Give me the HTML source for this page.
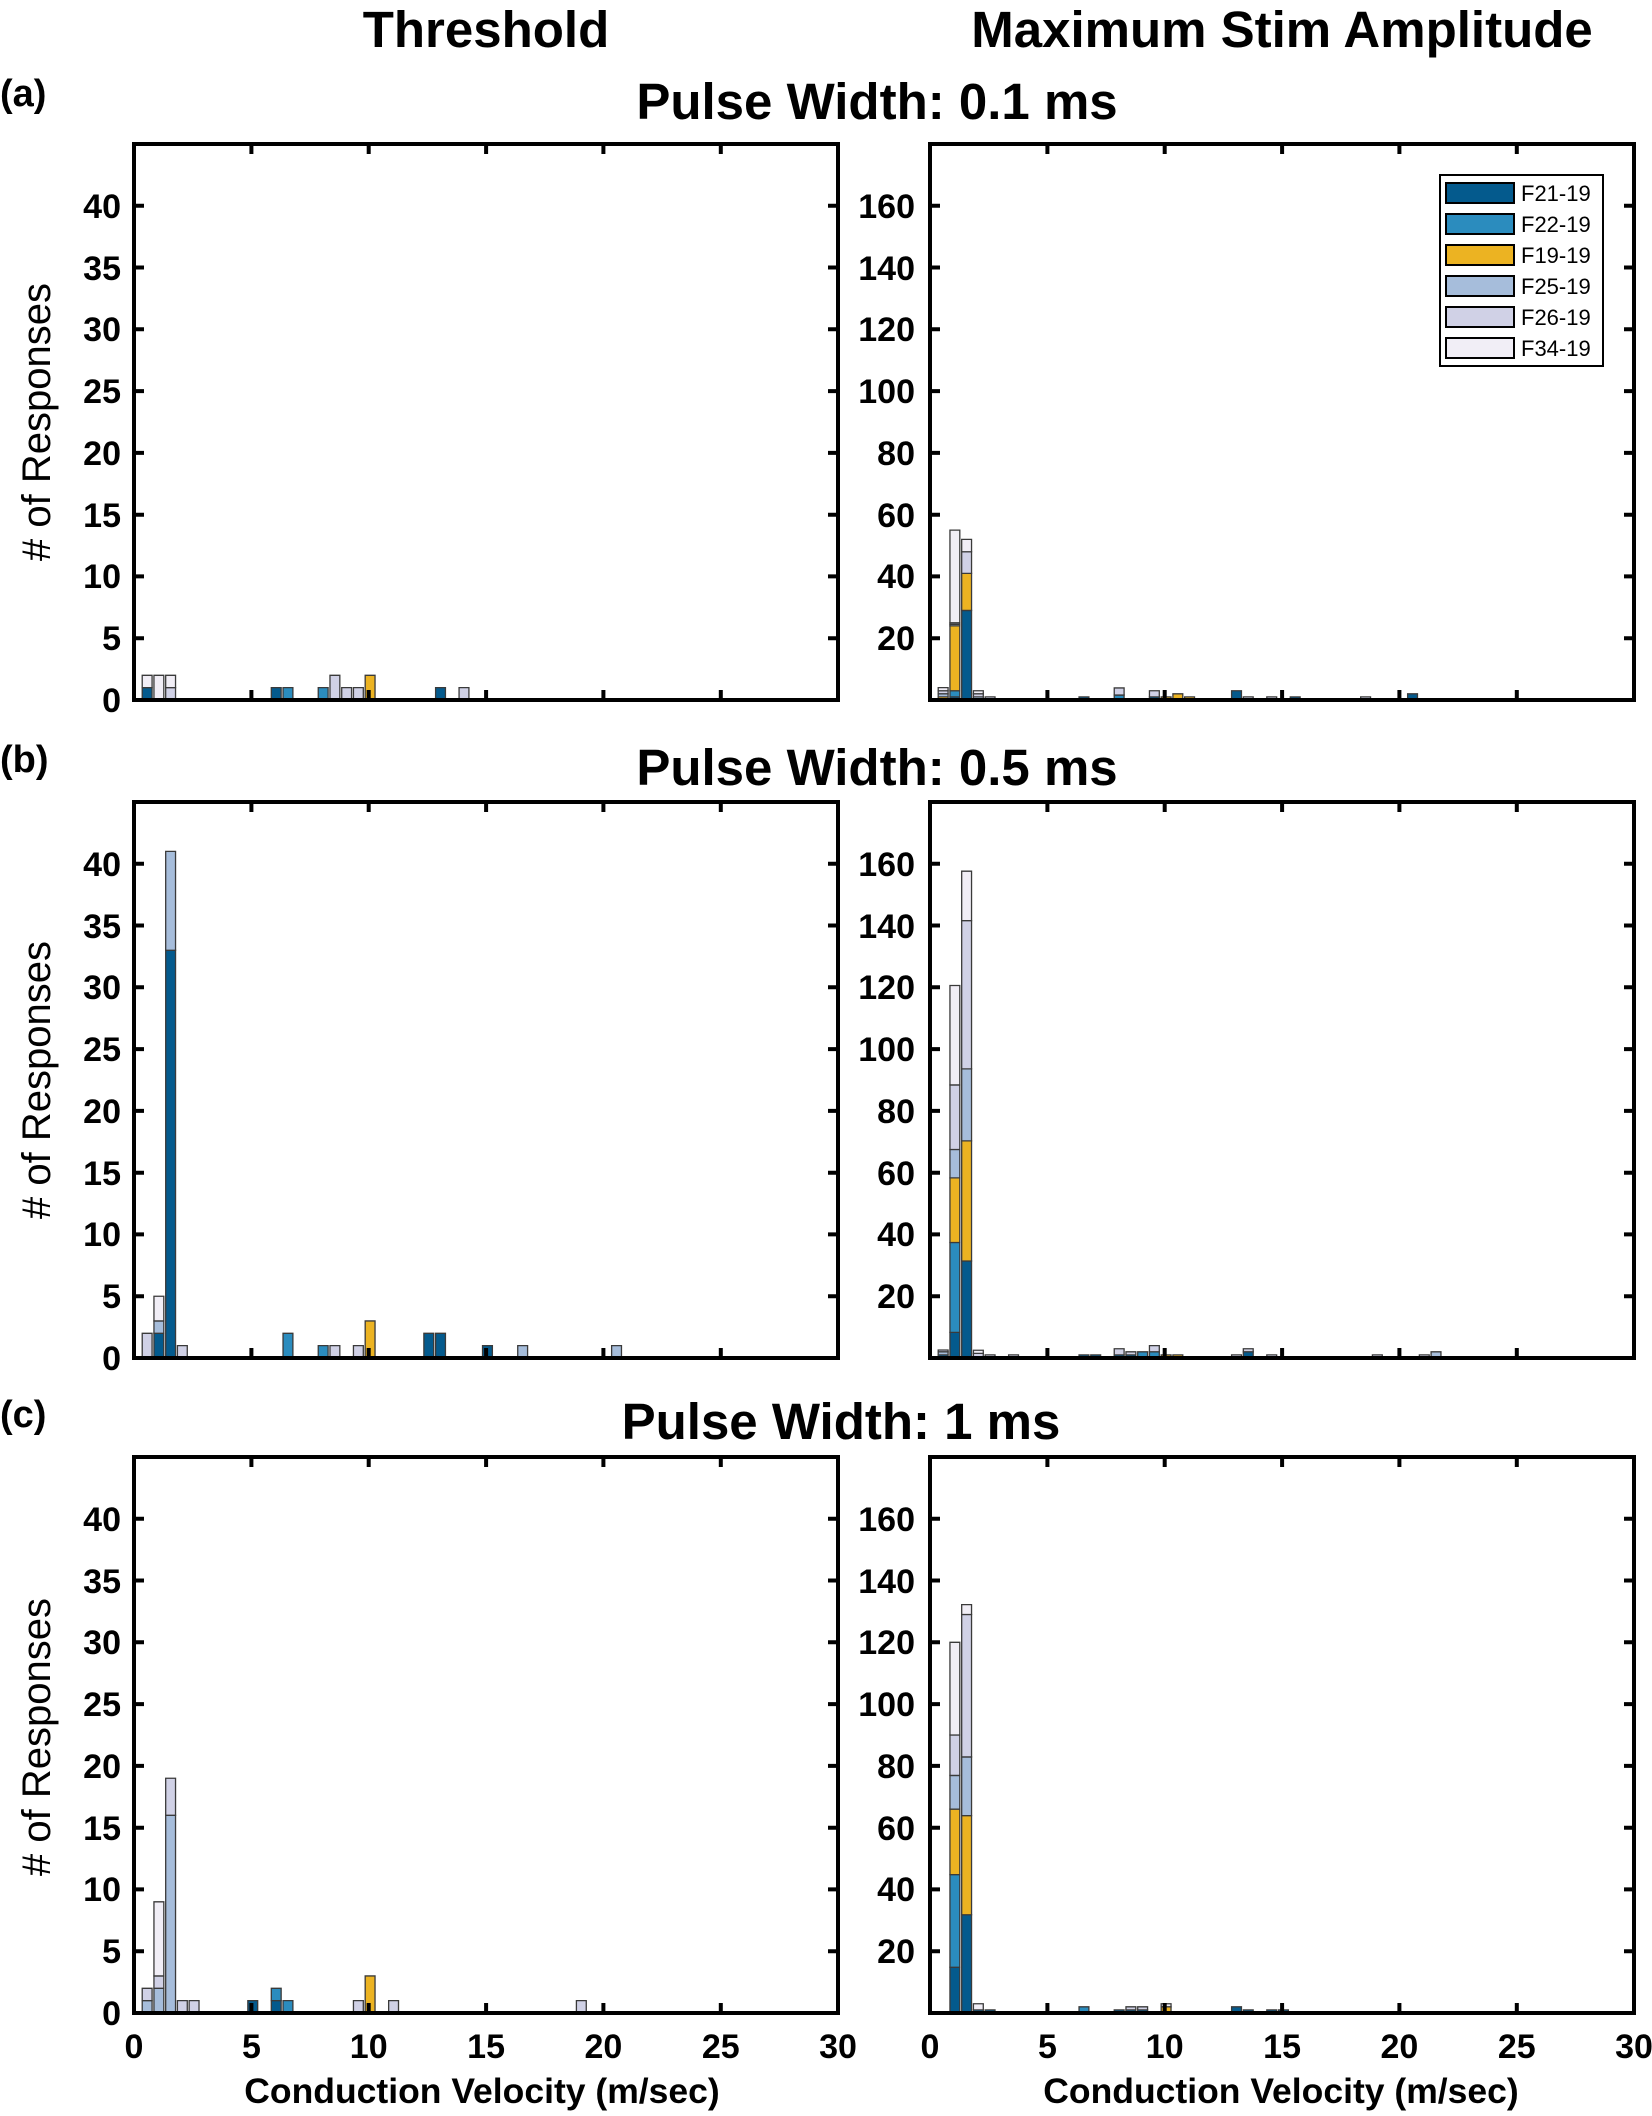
<!DOCTYPE html>
<html><head><meta charset="utf-8"><style>
html,body{margin:0;padding:0;background:#fff;}
svg{display:block;}
text{font-family:"Liberation Sans",Arial,sans-serif;}
.bars rect{stroke:#3a3a3a;stroke-width:1.3;vector-effect:non-scaling-stroke;}
.A{fill:#045a8d}.B{fill:#2b8cbe}.C{fill:#ecb322}.D{fill:#a6bddb}.E{fill:#d0d1e6}.F{fill:#f1eef6}
.tk{stroke:#000;stroke-width:4;}
.fr{fill:none;stroke:#000;stroke-width:4;}
.tl{font-size:34px;font-weight:bold;}
</style></head><body>
<svg width="1652" height="2116" viewBox="0 0 1652 2116" xmlns="http://www.w3.org/2000/svg">
<defs>
<g id="lframe">
<rect class="fr" x="134" y="144" width="704" height="556"/>
<path class="tk" d="M134 638.2h10M134 576.4h10M134 514.7h10M134 452.9h10M134 391.1h10M134 329.3h10M134 267.5h10M134 205.8h10M828 638.2h10M828 576.4h10M828 514.7h10M828 452.9h10M828 391.1h10M828 329.3h10M828 267.5h10M828 205.8h10M251.4 700v-10M368.7 700v-10M486.1 700v-10M603.4 700v-10M720.8 700v-10M251.4 144v10M368.7 144v10M486.1 144v10M603.4 144v10M720.8 144v10"/>
</g>
<g id="rframe">
<rect class="fr" x="930" y="144" width="704" height="556"/>
<path class="tk" d="M930 638.2h10M930 576.4h10M930 514.7h10M930 452.9h10M930 391.1h10M930 329.3h10M930 267.5h10M930 205.8h10M1624 638.2h10M1624 576.4h10M1624 514.7h10M1624 452.9h10M1624 391.1h10M1624 329.3h10M1624 267.5h10M1624 205.8h10M1047.4 700v-10M1164.7 700v-10M1282.1 700v-10M1399.4 700v-10M1516.8 700v-10M1047.4 144v10M1164.7 144v10M1282.1 144v10M1399.4 144v10M1516.8 144v10"/>
</g>
</defs>

<text x="486" y="47" font-size="51" font-weight="bold" text-anchor="middle">Threshold</text>
<text x="1282" y="47" font-size="51" font-weight="bold" text-anchor="middle">Maximum Stim Amplitude</text>

<text x="0" y="106" font-size="38" font-weight="bold">(a)</text>
<text x="877" y="119" font-size="51" font-weight="bold" text-anchor="middle">Pulse Width: 0.1 ms</text>
<text x="0" y="772" font-size="38" font-weight="bold">(b)</text>
<text x="877" y="785" font-size="51" font-weight="bold" text-anchor="middle">Pulse Width: 0.5 ms</text>
<text x="0" y="1427" font-size="38" font-weight="bold">(c)</text>
<text x="841" y="1439" font-size="51" font-weight="bold" text-anchor="middle">Pulse Width: 1 ms</text>

<text transform="translate(50,422) rotate(-90)" font-size="40" text-anchor="middle"># of Responses</text>
<text transform="translate(50,1080) rotate(-90)" font-size="40" text-anchor="middle"># of Responses</text>
<text transform="translate(50,1737) rotate(-90)" font-size="40" text-anchor="middle"># of Responses</text>

<g>
<g class="bars" transform="translate(134,700) scale(23.47,-12.356)">
<rect class="A" x="0.35" y="0" width="0.42" height="1"/><rect class="F" x="0.35" y="1" width="0.42" height="1"/>
<rect class="F" x="0.85" y="0" width="0.42" height="2"/>
<rect class="E" x="1.35" y="0" width="0.42" height="1"/><rect class="F" x="1.35" y="1" width="0.42" height="1"/>
<rect class="A" x="5.85" y="0" width="0.42" height="1"/>
<rect class="B" x="6.35" y="0" width="0.42" height="1"/>
<rect class="B" x="7.85" y="0" width="0.42" height="1"/>
<rect class="E" x="8.35" y="0" width="0.42" height="2"/>
<rect class="E" x="8.85" y="0" width="0.42" height="1"/>
<rect class="E" x="9.35" y="0" width="0.42" height="1"/>
<rect class="C" x="9.85" y="0" width="0.42" height="2"/>
<rect class="A" x="12.85" y="0" width="0.42" height="1"/>
<rect class="E" x="13.85" y="0" width="0.42" height="1"/>
</g>
<use href="#lframe"/>
<g class="tl" text-anchor="end">
<text x="121" y="712">0</text><text x="121" y="650">5</text><text x="121" y="588">10</text><text x="121" y="527">15</text><text x="121" y="465">20</text><text x="121" y="403">25</text><text x="121" y="341">30</text><text x="121" y="280">35</text><text x="121" y="218">40</text>
</g>
<g class="bars" transform="translate(930,700) scale(23.47,-3.089)">
<rect class="C" x="0.35" y="0" width="0.42" height="1"/><rect class="D" x="0.35" y="1" width="0.42" height="1"/><rect class="E" x="0.35" y="2" width="0.42" height="1"/><rect class="F" x="0.35" y="3" width="0.42" height="1"/>
<rect class="A" x="0.85" y="0" width="0.42" height="1"/><rect class="B" x="0.85" y="1" width="0.42" height="2"/><rect class="C" x="0.85" y="3" width="0.42" height="21"/><rect class="D" x="0.85" y="24" width="0.42" height="0.5"/><rect class="E" x="0.85" y="24.5" width="0.42" height="0.5"/><rect class="F" x="0.85" y="25" width="0.42" height="30"/>
<rect class="A" x="1.35" y="0" width="0.42" height="29"/><rect class="C" x="1.35" y="29" width="0.42" height="12"/><rect class="E" x="1.35" y="41" width="0.42" height="7"/><rect class="F" x="1.35" y="48" width="0.42" height="4"/>
<rect class="D" x="1.85" y="0" width="0.42" height="1"/><rect class="E" x="1.85" y="1" width="0.42" height="1"/><rect class="F" x="1.85" y="2" width="0.42" height="1"/>
<rect class="E" x="2.35" y="0" width="0.42" height="1"/>
<rect class="A" x="6.35" y="0" width="0.42" height="1"/>
<rect class="B" x="7.85" y="0" width="0.42" height="1.6"/><rect class="E" x="7.85" y="1.6" width="0.42" height="2.3"/>
<rect class="A" x="9.35" y="0" width="0.42" height="1"/><rect class="E" x="9.35" y="1" width="0.42" height="2"/>
<rect class="C" x="9.85" y="0" width="0.42" height="1"/>
<rect class="C" x="10.35" y="0" width="0.42" height="2"/>
<rect class="C" x="10.85" y="0" width="0.42" height="1"/>
<rect class="A" x="12.85" y="0" width="0.42" height="3"/>
<rect class="E" x="13.35" y="0" width="0.42" height="1"/>
<rect class="E" x="14.35" y="0" width="0.42" height="1"/>
<rect class="A" x="15.35" y="0" width="0.42" height="1"/>
<rect class="E" x="18.35" y="0" width="0.42" height="1"/>
<rect class="A" x="20.35" y="0" width="0.42" height="2"/>
</g>
<use href="#rframe"/>
<g class="tl" text-anchor="end">
<text x="915" y="650">20</text><text x="915" y="588">40</text><text x="915" y="527">60</text><text x="915" y="465">80</text><text x="915" y="403">100</text><text x="915" y="341">120</text><text x="915" y="280">140</text><text x="915" y="218">160</text>
</g>
<rect x="1440" y="175" width="163" height="191" fill="#fff" stroke="#000" stroke-width="2"/>
<g stroke="#000" stroke-width="2">
<rect class="A" x="1446" y="183" width="68" height="20"/>
<rect class="B" x="1446" y="214" width="68" height="20"/>
<rect class="C" x="1446" y="245" width="68" height="20"/>
<rect class="D" x="1446" y="276" width="68" height="20"/>
<rect class="E" x="1446" y="307" width="68" height="20"/>
<rect class="F" x="1446" y="338" width="68" height="20"/>
</g>
<g font-size="22">
<text x="1521" y="201">F21-19</text><text x="1521" y="232">F22-19</text><text x="1521" y="263">F19-19</text><text x="1521" y="294">F25-19</text><text x="1521" y="325">F26-19</text><text x="1521" y="356">F34-19</text>
</g>
</g>

<g transform="translate(0,658)">
<g class="bars" transform="translate(134,700) scale(23.47,-12.356)">
<rect class="E" x="0.35" y="0" width="0.42" height="2"/>
<rect class="A" x="0.85" y="0" width="0.42" height="2"/><rect class="D" x="0.85" y="2" width="0.42" height="1"/><rect class="F" x="0.85" y="3" width="0.42" height="2"/>
<rect class="A" x="1.35" y="0" width="0.42" height="33"/><rect class="D" x="1.35" y="33" width="0.42" height="8"/>
<rect class="E" x="1.85" y="0" width="0.42" height="1"/>
<rect class="B" x="6.35" y="0" width="0.42" height="2"/>
<rect class="B" x="7.85" y="0" width="0.42" height="1"/>
<rect class="E" x="8.35" y="0" width="0.42" height="1"/>
<rect class="E" x="9.35" y="0" width="0.42" height="1"/>
<rect class="C" x="9.85" y="0" width="0.42" height="3"/>
<rect class="A" x="12.35" y="0" width="0.42" height="2"/>
<rect class="A" x="12.85" y="0" width="0.42" height="2"/>
<rect class="A" x="14.85" y="0" width="0.42" height="1"/>
<rect class="D" x="16.35" y="0" width="0.42" height="1"/>
<rect class="D" x="20.35" y="0" width="0.42" height="1"/>
</g>
<use href="#lframe"/>
<g class="tl" text-anchor="end">
<text x="121" y="712">0</text><text x="121" y="650">5</text><text x="121" y="588">10</text><text x="121" y="527">15</text><text x="121" y="465">20</text><text x="121" y="403">25</text><text x="121" y="341">30</text><text x="121" y="280">35</text><text x="121" y="218">40</text>
</g>
<g class="bars" transform="translate(930,700) scale(23.47,-3.089)">
<rect class="A" x="0.35" y="0" width="0.42" height="1"/><rect class="D" x="0.35" y="1" width="0.42" height="1"/><rect class="E" x="0.35" y="2" width="0.42" height="0.6"/>
<rect class="A" x="0.85" y="0" width="0.42" height="8.3"/><rect class="B" x="0.85" y="8.3" width="0.42" height="29.1"/><rect class="C" x="0.85" y="37.4" width="0.42" height="20.9"/><rect class="D" x="0.85" y="58.3" width="0.42" height="9.2"/><rect class="E" x="0.85" y="67.5" width="0.42" height="20.9"/><rect class="F" x="0.85" y="88.4" width="0.42" height="32.2"/>
<rect class="A" x="1.35" y="0" width="0.42" height="31.4"/><rect class="C" x="1.35" y="31.4" width="0.42" height="38.9"/><rect class="D" x="1.35" y="70.3" width="0.42" height="23.3"/><rect class="E" x="1.35" y="93.6" width="0.42" height="48"/><rect class="F" x="1.35" y="141.6" width="0.42" height="16"/>
<rect class="E" x="1.85" y="0" width="0.42" height="1.5"/><rect class="F" x="1.85" y="1.5" width="0.42" height="1"/>
<rect class="E" x="2.35" y="0" width="0.42" height="1"/>
<rect class="E" x="3.35" y="0" width="0.42" height="1"/>
<rect class="A" x="6.35" y="0" width="0.42" height="1"/>
<rect class="A" x="6.85" y="0" width="0.42" height="1"/>
<rect class="A" x="7.85" y="0" width="0.42" height="1"/><rect class="E" x="7.85" y="1" width="0.42" height="2"/>
<rect class="A" x="8.35" y="0" width="0.42" height="1"/><rect class="E" x="8.35" y="1" width="0.42" height="1"/>
<rect class="B" x="8.85" y="0" width="0.42" height="2"/>
<rect class="B" x="9.35" y="0" width="0.42" height="2"/><rect class="E" x="9.35" y="2" width="0.42" height="2"/>
<rect class="C" x="9.85" y="0" width="0.42" height="1"/>
<rect class="C" x="10.35" y="0" width="0.42" height="1"/>
<rect class="E" x="12.85" y="0" width="0.42" height="1"/>
<rect class="A" x="13.35" y="0" width="0.42" height="2"/><rect class="E" x="13.35" y="2" width="0.42" height="1"/>
<rect class="E" x="14.35" y="0" width="0.42" height="1"/>
<rect class="E" x="18.85" y="0" width="0.42" height="1"/>
<rect class="E" x="20.85" y="0" width="0.42" height="1"/>
<rect class="D" x="21.35" y="0" width="0.42" height="2"/>
</g>
<use href="#rframe"/>
<g class="tl" text-anchor="end">
<text x="915" y="650">20</text><text x="915" y="588">40</text><text x="915" y="527">60</text><text x="915" y="465">80</text><text x="915" y="403">100</text><text x="915" y="341">120</text><text x="915" y="280">140</text><text x="915" y="218">160</text>
</g>
</g>

<g transform="translate(0,1313)">
<g class="bars" transform="translate(134,700) scale(23.47,-12.356)">
<rect class="D" x="0.35" y="0" width="0.42" height="1"/><rect class="E" x="0.35" y="1" width="0.42" height="1"/>
<rect class="D" x="0.85" y="0" width="0.42" height="2"/><rect class="E" x="0.85" y="2" width="0.42" height="1"/><rect class="F" x="0.85" y="3" width="0.42" height="6"/>
<rect class="D" x="1.35" y="0" width="0.42" height="16"/><rect class="E" x="1.35" y="16" width="0.42" height="3"/>
<rect class="E" x="1.85" y="0" width="0.42" height="1"/>
<rect class="E" x="2.35" y="0" width="0.42" height="1"/>
<rect class="A" x="4.85" y="0" width="0.42" height="1"/>
<rect class="A" x="5.85" y="0" width="0.42" height="1"/><rect class="B" x="5.85" y="1" width="0.42" height="1"/>
<rect class="B" x="6.35" y="0" width="0.42" height="1"/>
<rect class="E" x="9.35" y="0" width="0.42" height="1"/>
<rect class="C" x="9.85" y="0" width="0.42" height="3"/>
<rect class="E" x="10.85" y="0" width="0.42" height="1"/>
<rect class="E" x="18.85" y="0" width="0.42" height="1"/>
</g>
<use href="#lframe"/>
<g class="tl" text-anchor="end">
<text x="121" y="712">0</text><text x="121" y="650">5</text><text x="121" y="588">10</text><text x="121" y="527">15</text><text x="121" y="465">20</text><text x="121" y="403">25</text><text x="121" y="341">30</text><text x="121" y="280">35</text><text x="121" y="218">40</text>
</g>
<g class="bars" transform="translate(930,700) scale(23.47,-3.089)">
<rect class="A" x="0.85" y="0" width="0.42" height="14.8"/><rect class="B" x="0.85" y="14.8" width="0.42" height="30"/><rect class="C" x="0.85" y="44.8" width="0.42" height="21.2"/><rect class="D" x="0.85" y="66" width="0.42" height="10.9"/><rect class="E" x="0.85" y="76.9" width="0.42" height="13.1"/><rect class="F" x="0.85" y="90" width="0.42" height="30"/>
<rect class="A" x="1.35" y="0" width="0.42" height="31.8"/><rect class="C" x="1.35" y="31.8" width="0.42" height="32.1"/><rect class="D" x="1.35" y="63.9" width="0.42" height="19"/><rect class="E" x="1.35" y="82.9" width="0.42" height="46.1"/><rect class="F" x="1.35" y="129" width="0.42" height="3.2"/>
<rect class="A" x="1.85" y="0" width="0.42" height="1"/><rect class="F" x="1.85" y="1" width="0.42" height="2"/>
<rect class="A" x="2.35" y="0" width="0.42" height="1"/>
<rect class="B" x="6.35" y="0" width="0.42" height="2"/>
<rect class="A" x="7.85" y="0" width="0.42" height="1"/>
<rect class="A" x="8.35" y="0" width="0.42" height="1"/><rect class="E" x="8.35" y="1" width="0.42" height="1"/>
<rect class="A" x="8.85" y="0" width="0.42" height="1"/><rect class="E" x="8.85" y="1" width="0.42" height="1"/>
<rect class="C" x="9.85" y="0" width="0.42" height="2"/><rect class="F" x="9.85" y="2" width="0.42" height="1"/>
<rect class="A" x="12.85" y="0" width="0.42" height="2"/>
<rect class="A" x="13.35" y="0" width="0.42" height="1"/>
<rect class="A" x="14.35" y="0" width="0.42" height="1"/>
<rect class="A" x="14.85" y="0" width="0.42" height="1"/>
</g>
<use href="#rframe"/>
<g class="tl" text-anchor="end">
<text x="915" y="650">20</text><text x="915" y="588">40</text><text x="915" y="527">60</text><text x="915" y="465">80</text><text x="915" y="403">100</text><text x="915" y="341">120</text><text x="915" y="280">140</text><text x="915" y="218">160</text>
</g>
</g>

<g class="tl" text-anchor="middle">
<text x="134" y="2058">0</text><text x="251.4" y="2058">5</text><text x="368.7" y="2058">10</text><text x="486.1" y="2058">15</text><text x="603.4" y="2058">20</text><text x="720.8" y="2058">25</text><text x="838" y="2058">30</text>
<text x="930" y="2058">0</text><text x="1047.4" y="2058">5</text><text x="1164.7" y="2058">10</text><text x="1282.1" y="2058">15</text><text x="1399.4" y="2058">20</text><text x="1516.8" y="2058">25</text><text x="1634" y="2058">30</text>
</g>
<text x="482" y="2103" font-size="35.5" font-weight="bold" text-anchor="middle">Conduction Velocity (m/sec)</text>
<text x="1281" y="2103" font-size="35.5" font-weight="bold" text-anchor="middle">Conduction Velocity (m/sec)</text>
</svg>
</body></html>
